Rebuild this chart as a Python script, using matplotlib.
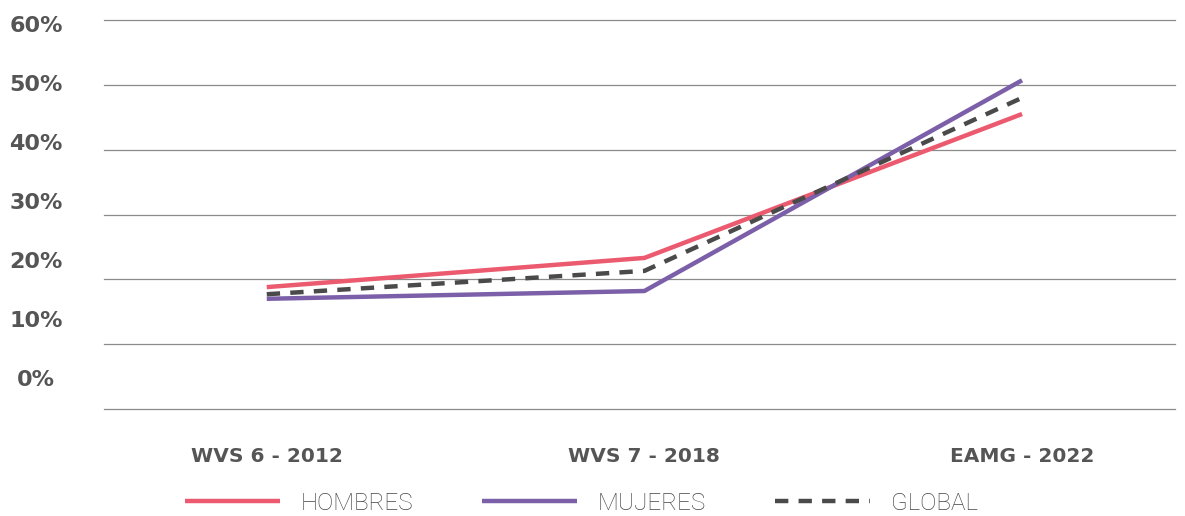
import matplotlib
matplotlib.use("Agg")
import matplotlib.pyplot as plt

# datos (%)
categorias = ["WVS 6 - 2012", "WVS 7 - 2018", "EAMG - 2022"]
hombres = [18.8, 23.3, 45.5]
mujeres = [17.0, 18.2, 50.7]
global_ = [17.7, 21.3, 48.0]
ticks_y = [0, 10, 20, 30, 40, 50, 60]
etiquetas_y = ["0%", "10%", "20%", "30%", "40%", "50%", "60%"]

col_h = "#eb5a6e"
col_m = "#7b5fa8"
col_g = "#4a4a4a"
col_txt = "#555555"

fig = plt.figure(figsize=(11.85, 5.16), dpi=100)
ax = fig.add_axes([104 / 1185, 1 - 409 / 516, (1175 - 104) / 1185, (409 - 20) / 516])

x = list(range(len(categorias)))
ax.plot(x, hombres, color=col_h, lw=3.2, label="HOMBRES", solid_capstyle="butt")
ax.plot(x, mujeres, color=col_m, lw=3.2, label="MUJERES", solid_capstyle="butt")
ax.plot(x, global_, color=col_g, lw=3.2, dashes=(3, 2.3), label="GLOBAL")

ax.set_xlim(-0.431, 2.405)
ax.set_ylim(0, 60)
ax.set_yticks(ticks_y)
ax.yaxis.grid(True, color="#8a8a8a", lw=0.9)
for gl in ax.get_ygridlines():
    gl.set_clip_on(False)
ax.set_axisbelow(True)
ax.tick_params(axis="y", left=False, labelleft=False)
for s in ax.spines.values():
    s.set_visible(False)

ax.set_xticks(x)
ax.set_xticklabels(categorias, fontfamily="DejaVu Sans", fontweight="bold",
                   fontsize=14.5, color=col_txt)
ax.tick_params(axis="x", length=0, pad=27)

# las etiquetas del eje y no coinciden con las lineas de la cuadricula
sec = ax.secondary_yaxis("left", functions=(lambda p: (p - 4.78) / 0.910,
                                             lambda s: s * 0.910 + 4.78))
sec.set_yticks(ticks_y)
sec.set_yticklabels(etiquetas_y, fontfamily="DejaVu Sans", fontweight="bold",
                    fontsize=16, color=col_txt, ha="center")
sec.tick_params(length=0, pad=49)
for s in sec.spines.values():
    s.set_visible(False)

fig.legend(loc="center", bbox_to_anchor=(581.5 / 1185, 1 - 503 / 516), ncol=3,
           frameon=False, handlelength=3.9, handletextpad=0.85, columnspacing=2.85,
           prop={"family": "Roboto", "weight": "light", "size": 17.5},
           labelcolor="#444444")

fig.savefig("out.png", dpi=100)
